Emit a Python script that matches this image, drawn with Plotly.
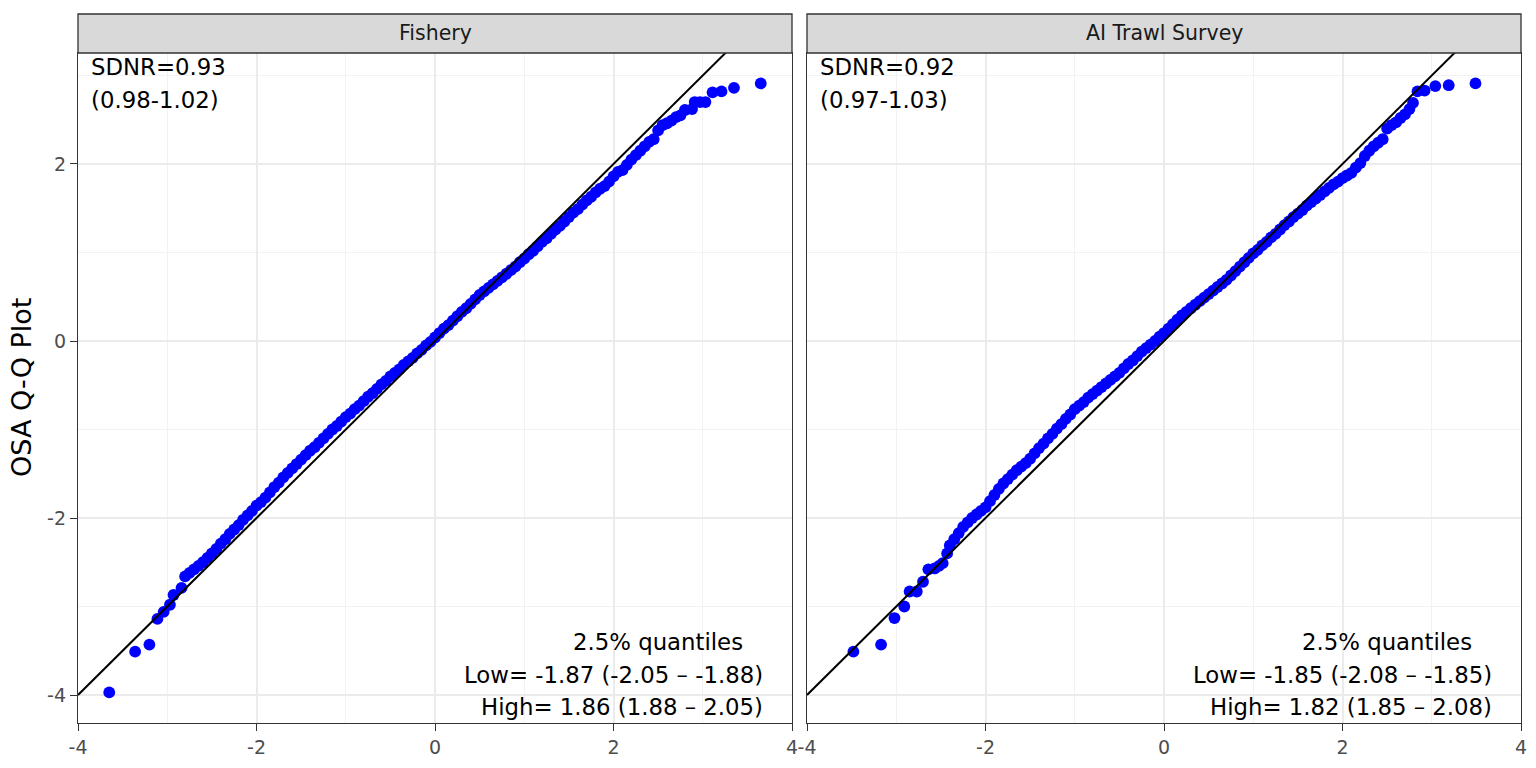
import plotly.graph_objects as go

# ---------------- data ----------------
panels = ["Fishery", "AI Trawl Survey"]

fishery_theoretical = [
    -3.65, -3.36, -3.20, -3.11, -3.04, -2.97, -2.93, -2.84,
    -2.80, -2.75, -2.70, -2.65, -2.60, -2.55, -2.50, -2.45, -2.40, -2.35,
    -2.30, -2.25, -2.20, -2.15, -2.10, -2.05, -2.00, -1.95, -1.90, -1.85,
    -1.80, -1.75, -1.70, -1.65, -1.60, -1.55, -1.50, -1.45, -1.40, -1.35,
    -1.30, -1.25, -1.20, -1.15, -1.10, -1.05, -1.00, -0.95, -0.90, -0.85,
    -0.80, -0.75, -0.70, -0.65, -0.60, -0.55, -0.50, -0.45, -0.40, -0.35,
    -0.30, -0.25, -0.20, -0.15, -0.10, -0.05, 0.00, 0.05, 0.10, 0.15,
    0.20, 0.25, 0.30, 0.35, 0.40, 0.45, 0.50, 0.55, 0.60, 0.65,
    0.70, 0.75, 0.80, 0.85, 0.90, 0.95, 1.00, 1.05, 1.10, 1.15,
    1.20, 1.25, 1.30, 1.35, 1.40, 1.45, 1.50, 1.55, 1.60, 1.65,
    1.70, 1.75, 1.80, 1.85, 1.90, 1.95, 2.00, 2.05, 2.10, 2.15,
    2.20, 2.25, 2.30, 2.35, 2.40, 2.45, 2.50, 2.55, 2.60, 2.65, 2.70, 2.75,
    2.80, 2.88, 2.91, 2.97, 3.03, 3.11, 3.21, 3.35, 3.65,
]
fishery_sample = [
    -3.97, -3.51, -3.43, -3.14, -3.06, -2.98, -2.87, -2.79,
    -2.66, -2.62, -2.58, -2.54, -2.50, -2.45, -2.40, -2.35, -2.29, -2.24,
    -2.18, -2.13, -2.08, -2.02, -1.97, -1.92, -1.86, -1.82, -1.77, -1.71,
    -1.65, -1.60, -1.54, -1.49, -1.44, -1.39, -1.34, -1.29, -1.24, -1.20,
    -1.15, -1.10, -1.05, -1.00, -0.96, -0.91, -0.86, -0.82, -0.77, -0.73,
    -0.68, -0.63, -0.59, -0.54, -0.49, -0.45, -0.40, -0.36, -0.32, -0.27,
    -0.23, -0.19, -0.14, -0.10, -0.05, -0.01, 0.04, 0.09, 0.14, 0.18,
    0.23, 0.28, 0.33, 0.37, 0.42, 0.47, 0.52, 0.56, 0.60, 0.64,
    0.68, 0.72, 0.76, 0.80, 0.84, 0.89, 0.93, 0.98, 1.02, 1.07,
    1.12, 1.16, 1.21, 1.26, 1.30, 1.35, 1.40, 1.45, 1.49, 1.54,
    1.59, 1.63, 1.68, 1.72, 1.75, 1.80, 1.86, 1.91, 1.93, 1.99,
    2.05, 2.10, 2.15, 2.20, 2.25, 2.28, 2.38, 2.44, 2.46, 2.49, 2.53, 2.55,
    2.61, 2.62, 2.70, 2.70, 2.70, 2.81, 2.82, 2.86, 2.91,
]

survey_theoretical = [
    -3.48, -3.17, -3.02, -2.91, -2.85, -2.77, -2.70, -2.64, -2.57, -2.52,
    -2.48, -2.43, -2.40, -2.35, -2.30,
    -2.25, -2.20, -2.15, -2.10, -2.05, -2.00, -1.95, -1.90, -1.85, -1.80,
    -1.75, -1.70, -1.65, -1.60, -1.55, -1.50, -1.45, -1.40, -1.35, -1.30,
    -1.25, -1.20, -1.15, -1.10, -1.05, -1.00, -0.95, -0.90, -0.85, -0.80,
    -0.75, -0.70, -0.65, -0.60, -0.55, -0.50, -0.45, -0.40, -0.35, -0.30,
    -0.25, -0.20, -0.15, -0.10, -0.05, 0.00, 0.05, 0.10, 0.15, 0.20,
    0.25, 0.30, 0.35, 0.40, 0.45, 0.50, 0.55, 0.60, 0.65, 0.70,
    0.75, 0.80, 0.85, 0.90, 0.95, 1.00, 1.05, 1.10, 1.15, 1.20,
    1.25, 1.30, 1.35, 1.40, 1.45, 1.50, 1.55, 1.60, 1.65, 1.70,
    1.75, 1.80, 1.85, 1.90, 1.95, 2.00, 2.05, 2.10, 2.15, 2.20,
    2.25, 2.30, 2.35, 2.40, 2.45, 2.50, 2.55, 2.60, 2.65, 2.70,
    2.75,
    2.79, 2.84, 2.92, 3.04, 3.19, 3.49,
]
survey_sample = [
    -3.51, -3.43, -3.13, -3.00, -2.83, -2.83, -2.72, -2.58, -2.57, -2.54,
    -2.51, -2.40, -2.31, -2.24, -2.17,
    -2.10, -2.05, -2.00, -1.96, -1.92, -1.88, -1.81, -1.74, -1.67, -1.61,
    -1.56, -1.51, -1.46, -1.42, -1.38, -1.33, -1.27, -1.21, -1.16, -1.10,
    -1.05, -0.99, -0.94, -0.88, -0.83, -0.77, -0.73, -0.69, -0.64, -0.60,
    -0.56, -0.52, -0.48, -0.44, -0.40, -0.36, -0.31, -0.26, -0.22, -0.17,
    -0.12, -0.08, -0.04, 0.00, 0.05, 0.09, 0.14, 0.19, 0.24, 0.29,
    0.33, 0.37, 0.41, 0.45, 0.49, 0.53, 0.57, 0.61, 0.65, 0.69,
    0.74, 0.79, 0.84, 0.89, 0.94, 0.99, 1.03, 1.08, 1.12, 1.17,
    1.21, 1.26, 1.31, 1.35, 1.40, 1.44, 1.48, 1.53, 1.57, 1.61,
    1.65, 1.69, 1.73, 1.77, 1.80, 1.84, 1.87, 1.90, 1.96, 2.01,
    2.09, 2.15, 2.20, 2.24, 2.28, 2.40, 2.44, 2.47, 2.52, 2.56,
    2.62,
    2.69, 2.82, 2.83, 2.88, 2.89, 2.91,
]

sdnr_labels = ["SDNR=0.93", "SDNR=0.92"]
sdnr_ci_labels = ["(0.98-1.02)", "(0.97-1.03)"]
quantile_title = "2.5% quantiles"
low_labels = ["Low= -1.87 (-2.05 \u2013 -1.88)", "Low= -1.85 (-2.08 \u2013 -1.85)"]
high_labels = ["High= 1.86 (1.88 \u2013 2.05)", "High= 1.82 (1.85 \u2013 2.08)"]
ref_line = [-4, 4]
x_ticks = [-4, -2, 0, 2, 4]
x_tick_labels = ["-4", "-2", "0", "2", "4"]
y_ticks = [-4, -2, 0, 2]
y_tick_labels = ["-4", "-2", "0", "2"]
y_title = "OSA Q-Q Plot"

# ---------------- layout geometry ----------------
W, H = 1536, 768
FONT = "DejaVu Sans"


def px_x(p):
    return p / W


def px_y(p):
    return 1 - p / H


panel_px = [(78, 792), (807, 1521)]
panel_top, panel_bot, strip_top = 53, 723, 14
ydom = [px_y(panel_bot), px_y(panel_top)]

fig = go.Figure()
series = [(fishery_theoretical, fishery_sample), (survey_theoretical, survey_sample)]

for i, (xs, ys) in enumerate(series):
    xa = "x" if i == 0 else "x2"
    ya = "y" if i == 0 else "y2"
    fig.add_trace(go.Scatter(
        x=xs, y=ys, mode="markers", xaxis=xa, yaxis=ya,
        marker=dict(color="#0000FF", size=11.8, line=dict(width=0)),
        showlegend=False, hoverinfo="skip"))
    fig.add_trace(go.Scatter(
        x=ref_line, y=ref_line, mode="lines", xaxis=xa, yaxis=ya,
        line=dict(color="black", width=2), showlegend=False, hoverinfo="skip"))

grid_minor = dict(dtick=1, tick0=0, showgrid=True, gridcolor="#F2F2F2", gridwidth=1, ticks="")


def x_axis(dom, anchor):
    return dict(
        domain=dom, anchor=anchor, automargin=False,
        range=[-4, 4], tickmode="array", tickvals=x_ticks, ticktext=x_tick_labels,
        ticks="outside", ticklen=7, tickwidth=1.3, tickcolor="#333333",
        tickfont=dict(family=FONT, size=19, color="#4D4D4D"),
        showline=True, mirror=True, linecolor="#333333", linewidth=1.3,
        showgrid=True, gridcolor="#EBEBEB", gridwidth=2, zeroline=False,
        minor=grid_minor,
    )


def y_axis(anchor, labels):
    d = dict(
        domain=ydom, anchor=anchor, automargin=False,
        range=[-4.316, 3.254], tickmode="array", tickvals=y_ticks, ticktext=y_tick_labels,
        tickfont=dict(family=FONT, size=19, color="#4D4D4D"),
        showline=True, mirror=True, linecolor="#333333", linewidth=1.3,
        showgrid=True, gridcolor="#EBEBEB", gridwidth=2, zeroline=False,
        minor=grid_minor,
    )
    if labels:
        d.update(ticks="outside", ticklen=7, tickwidth=1.3, tickcolor="#333333", showticklabels=True)
    else:
        d.update(ticks="", showticklabels=False)
    return d


fig.update_layout(
    template="none",
    width=W, height=H, autosize=False,
    margin=dict(l=0, r=0, t=0, b=0, pad=0),
    paper_bgcolor="white", plot_bgcolor="white",
    xaxis=x_axis([px_x(panel_px[0][0]), px_x(panel_px[0][1])], "y"),
    xaxis2=x_axis([px_x(panel_px[1][0]), px_x(panel_px[1][1])], "y2"),
    yaxis=y_axis("x", True),
    yaxis2=y_axis("x2", False),
)

shapes = []
annotations = []
txt_font = dict(family=FONT, size=22.8, color="black")
for i, (x0, x1) in enumerate(panel_px):
    shapes.append(dict(type="rect", xref="paper", yref="paper",
                       x0=px_x(x0), x1=px_x(x1), y0=px_y(panel_top), y1=px_y(strip_top),
                       fillcolor="#D9D9D9", line=dict(color="#333333", width=1.3), layer="above"))
    annotations.append(dict(text=panels[i], xref="paper", yref="paper",
                            x=px_x((x0 + x1) / 2), y=px_y((strip_top + panel_top) / 2),
                            xanchor="center", yanchor="middle", showarrow=False,
                            font=dict(family=FONT, size=20.5, color="#1A1A1A")))
    # top-left SDNR text
    annotations.append(dict(text=sdnr_labels[i], xref="paper", yref="paper",
                            x=px_x(x0 + 11), y=px_y(67), xanchor="left", yanchor="middle",
                            showarrow=False, font=txt_font))
    annotations.append(dict(text=sdnr_ci_labels[i], xref="paper", yref="paper",
                            x=px_x(x0 + 11), y=px_y(100), xanchor="left", yanchor="middle",
                            showarrow=False, font=txt_font))
    # bottom-right quantile text
    annotations.append(dict(text=quantile_title, xref="paper", yref="paper",
                            x=px_x(x1 - 47), y=px_y(642), xanchor="right", yanchor="middle",
                            showarrow=False, font=txt_font))
    annotations.append(dict(text=low_labels[i], xref="paper", yref="paper",
                            x=px_x(x1 - 27), y=px_y(675), xanchor="right", yanchor="middle",
                            showarrow=False, font=txt_font))
    annotations.append(dict(text=high_labels[i], xref="paper", yref="paper",
                            x=px_x(x1 - 27), y=px_y(707), xanchor="right", yanchor="middle",
                            showarrow=False, font=txt_font))

annotations.append(dict(text=y_title, xref="paper", yref="paper",
                        x=px_x(21), y=px_y((panel_top + panel_bot) / 2),
                        xanchor="center", yanchor="middle", textangle=-90, showarrow=False,
                        font=dict(family=FONT, size=27, color="black")))

fig.update_layout(shapes=shapes, annotations=annotations)
fig.write_html("out.html", config={"displayModeBar": False})

# remove the browser's default 8px body margin so the figure sits at the page origin
with open("out.html", "r", encoding="utf-8") as fh:
    page = fh.read()
page = page.replace("<body>", '<body style="margin:0;padding:0;overflow:hidden;">', 1)
with open("out.html", "w", encoding="utf-8") as fh:
    fh.write(page)
